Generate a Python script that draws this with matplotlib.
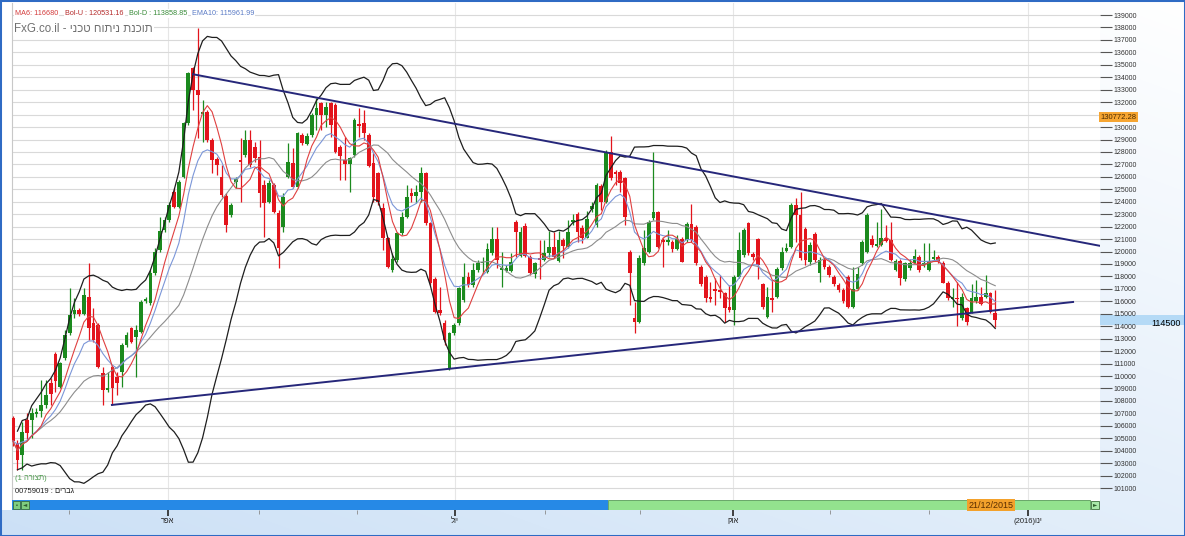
import numpy as np
import pandas as pd
import matplotlib
matplotlib.use("Agg")
import matplotlib.pyplot as plt
from matplotlib.patches import Rectangle

plt.rcParams['font.family'] = ['Liberation Sans', 'DejaVu Sans']

W, H = 1185, 536

# daily candles, 208 sessions ending 21/12/2015
opens = [106600, 104600, 103660, 106470, 106470, 106920, 107190, 107670, 109420, 111800,
         109150, 111420, 113430, 114960, 115300, 114960, 116380, 114230, 114100, 110220,
         108880, 110750, 109950, 110350, 112500, 113830, 113160, 113570, 116030, 115840,
         118250, 120130, 121730, 122530, 124810, 123600, 126010, 130300, 134720, 132980,
         131070, 131180, 128960, 127430, 126010, 124490, 122940, 125610, 127350, 127760,
         128960, 128420, 127620, 125350, 124010, 125350, 123070, 122000, 126010, 127090,
         125210, 129360, 128640, 129360, 130970, 131960, 130970, 131900, 131770, 128370,
         127350, 127030, 127750, 130240, 130300, 129360, 127090, 126280, 123470, 121060,
         118520, 119320, 121460, 122800, 124730, 124460, 124810, 126280, 122270, 117770,
         115300, 114230, 110620, 113430, 114230, 116110, 117980, 117310, 118520, 119050,
         118380, 119860, 120980, 118520, 118460, 118440, 122400, 119670, 122080, 119590,
         118170, 119510, 119320, 119860, 120390, 119240, 120930, 120390, 122350, 122990,
         121920, 121110, 123420, 122130, 125290, 124010, 128020, 126420, 126420, 125880,
         119990, 114690, 114320, 119050, 119990, 122670, 123150, 120930, 120740, 120740,
         120200, 121010, 120930, 122190, 122000, 118790, 117980, 116380, 116990, 116910,
         116650, 115570, 115310, 117980, 119720, 122270, 119800, 120980, 117390, 114720,
         116240, 116320, 118650, 120070, 120390, 123740, 122940, 121790, 119190, 121410,
         118250, 119320, 118730, 117980, 117310, 116910, 117980, 115570, 116970, 119060,
         119990, 120980, 120450, 120530, 121060, 120930, 118520, 119270, 117770, 118650,
         119110, 119530, 118920, 118520, 119380, 119590, 119110, 117500, 116220, 116240,
         114640, 115440, 115170, 116060, 116380, 116320, 116700, 115090]
highs = [106800, 104860, 106330, 107000, 107400, 107400, 109680, 109680, 109820, 111900,
         111150, 113700, 117050, 116240, 115440, 117050, 119050, 115440, 114230, 110750,
         110350, 110890, 110350, 112630, 113570, 113970, 114100, 116110, 116380, 118520,
         120260, 122800, 122800, 124000, 125080, 125750, 130430, 134450, 134850, 137930,
         132170, 131370, 129090, 127620, 126950, 124680, 123870, 126010, 129090, 129760,
         129760, 128830, 128960, 125750, 125750, 125480, 123340, 124680, 128690, 128290,
         129630, 129500, 129500, 131100, 132310, 132040, 132040, 132040, 131900, 128560,
         129230, 127620, 130700, 131500, 131370, 129500, 127890, 126420, 123870, 121200,
         119860, 121600, 123200, 125350, 125080, 125350, 126820, 126420, 122400, 117980,
         117180, 114500, 113570, 114230, 117180, 119050, 118380, 119050, 119320, 119590,
         120660, 122000, 122000, 120000, 118920, 119860, 122530, 122000, 122270, 119720,
         119190, 120930, 120930, 121650, 121600, 121650, 121060, 122530, 122990, 123150,
         122130, 123260, 123950, 125480, 125400, 128160, 129310, 126550, 126550, 126010,
         120120, 115980, 119720, 121730, 122530, 128020, 123260, 121060, 121730, 120930,
         121330, 121200, 122400, 123790, 122130, 118920, 118120, 117580, 117850, 118120,
         116780, 117320, 118120, 121600, 121860, 122400, 119990, 121060, 117500, 117180,
         117720, 118730, 120390, 120660, 123870, 124280, 124810, 122000, 120790, 121600,
         119530, 119460, 118920, 118120, 117500, 117050, 118120, 118790, 118790, 120930,
         123070, 121330, 122400, 123390, 122130, 122400, 119380, 119380, 119190, 119380,
         120180, 119720, 120710, 120710, 120120, 119720, 119270, 117660, 117050, 117580,
         116650, 115570, 117390, 117720, 117180, 118120, 116780, 116910]
lows = [104400, 102450, 102450, 104860, 105000, 106740, 106740, 107400, 107670, 108700,
        109000, 111290, 113300, 114640, 114850, 114900, 112900, 112760, 110620, 107670,
        108750, 107670, 108480, 109150, 112360, 112630, 109950, 113430, 115840, 115710,
        118120, 119990, 121600, 122400, 123470, 123470, 125880, 130170, 131370, 129090,
        128830, 128830, 126280, 126150, 124410, 121600, 122800, 125080, 124000, 127620,
        126820, 127220, 123600, 121200, 123870, 123070, 118650, 121600, 125880, 125080,
        125080, 128560, 128560, 129230, 129760, 129760, 130030, 129230, 127890, 125750,
        125750, 124810, 127620, 129230, 128960, 126760, 124010, 123740, 120120, 118650,
        118380, 119190, 121330, 122670, 124010, 123870, 123980, 122130, 117310, 115040,
        114900, 112490, 110490, 113300, 114100, 115980, 117180, 117180, 118380, 118250,
        118250, 119720, 118650, 117180, 118380, 118380, 119590, 119590, 119590, 118120,
        117850, 117800, 119240, 119590, 119460, 119190, 119460, 120260, 122130, 120740,
        120660, 121060, 123150, 122000, 123340, 123870, 125750, 125350, 124810, 122130,
        115710, 113430, 114230, 118920, 119860, 122530, 120260, 118790, 120530, 119990,
        120120, 119140, 120800, 120800, 118920, 117260, 115980, 115980, 115710, 116250,
        114370, 115170, 114100, 117850, 119590, 119720, 119320, 117770, 115360, 114640,
        115170, 116240, 118520, 119990, 120260, 120790, 119320, 118920, 118920, 119190,
        117580, 118570, 117980, 117230, 116780, 115900, 115440, 115440, 116910, 118920,
        119860, 120390, 120390, 120450, 120790, 119270, 118470, 117310, 117660, 118520,
        119060, 118380, 118790, 118470, 119270, 119060, 117450, 116110, 115570, 114020,
        114500, 114100, 115040, 115900, 115710, 116240, 115040, 113970]
closes = [104800, 103250, 105530, 105400, 107000, 107140, 107670, 108480, 108530, 109600,
          111020, 113300, 114900, 115300, 114960, 116510, 113830, 112900, 110750, 108880,
          109010, 109010, 109420, 112500, 113300, 112760, 113700, 115980, 116190, 118250,
          119990, 121650, 122530, 123740, 123600, 125610, 130300, 134320, 132980, 132570,
          131180, 128960, 127350, 126950, 124540, 122130, 123740, 125830, 127170, 128960,
          126950, 127490, 124680, 123870, 125480, 123200, 120260, 124410, 127220, 125210,
          129500, 128690, 129280, 130970, 131500, 130970, 131640, 130160, 128020, 127670,
          127030, 127490, 130570, 130080, 129500, 126870, 124410, 124010, 121060, 118780,
          119370, 121460, 122800, 124410, 124460, 124810, 126280, 122270, 117450, 115170,
          115090, 112900, 113430, 114100, 117040, 117980, 117310, 118520, 119110, 119190,
          120180, 120980, 119320, 118710, 118650, 119190, 121540, 121540, 119670, 118250,
          119050, 119320, 119860, 120390, 119590, 120930, 120470, 121600, 122530, 121540,
          121060, 122620, 123690, 125350, 123950, 128020, 125880, 126200, 125480, 122800,
          118250, 114320, 119460, 120260, 122400, 123200, 120390, 120740, 120930, 120200,
          121010, 119190, 122190, 120930, 119050, 117370, 116300, 116190, 116830, 116720,
          115490, 115310, 117980, 120120, 121730, 119860, 119590, 118920, 115520, 116380,
          116110, 118570, 119990, 120260, 123740, 122940, 119460, 119320, 120530, 119320,
          119320, 118730, 118120, 117390, 116910, 116060, 115570, 116970, 118200, 120800,
          122940, 120530, 120610, 121060, 120870, 119320, 119270, 117850, 119060, 119110,
          119640, 118520, 119110, 119270, 119530, 119190, 117500, 116240, 116320, 116160,
          116320, 114370, 116240, 116380, 115790, 116700, 115170, 114500]

# hand drawn trend lines (session index, price)
upper_tl_x = [38, 229.2]
upper_tl_y = [134240, 120450]
lower_tl_x = [20.9, 223.4]
lower_tl_y = [107680, 115950]

# first session of each month (Mar .. Jan)
month_starts = [11.9, 32.7, 51.9, 72.5, 93.2, 112.1, 132.1, 151.7, 172.2, 193.0, 213.9]
major_months = [32.7, 93.2, 151.7, 213.9]
major_labels = ["אפר"[::-1], "יול"[::-1], "אוק"[::-1], "(2016)" + "ינו"[::-1]]

last_date = "21/12/2015"
cursor_price = 130772.28
legend_items = [("MA6: 116680", "#d43c3c"), ("Bol-U : 120531.16", "#b52a2a"),
                ("Bol-D : 113858.85", "#3a8c3a"), ("EMA10: 115961.99", "#5c7cc6")]

RED = "#e3141c"
GREEN = "#1b8a1e"


def px_rect(x0, y0, x1, y1):
    return [x0 / W, 1 - y1 / H, (x1 - x0) / W, (y1 - y0) / H]


fig = plt.figure(figsize=(W / 100, H / 100), dpi=100)

# window background
bg = fig.add_axes([0, 0, 1, 1], zorder=-10)
yy, xx = np.mgrid[0:H, 0:W]
t = np.clip(0.55 * yy / H + 0.45 * (1 - xx / W), 0, 1)[..., None]
tint = np.array([0.80, 0.88, 0.965])
img = (1 - t) * np.ones(3) + t * tint
img[:510, :1100] = 1.0
bg.imshow(img, extent=[0, 1, 0, 1], aspect="auto", origin="upper")
bg.set_axis_off()

ax = fig.add_axes(px_rect(12, 3, 1100, 500))
ax.set_facecolor("white")

o = np.array(opens, float)
hi = np.array(highs, float)
lo = np.array(lows, float)
c = np.array(closes, float)
idx = np.arange(len(c))
cols = np.where(c >= o, GREEN, RED)

ax.vlines(idx, lo, hi, colors=cols, lw=0.9, zorder=3)
ax.bar(idx, np.maximum(np.abs(c - o), 60), bottom=np.minimum(o, c), width=0.78,
       color=cols, linewidth=0, zorder=3.1)

# indicators
s = pd.Series(c)
ma6 = s.rolling(6, min_periods=1).mean()
ema10 = s.ewm(span=10, adjust=False).mean()
mid = s.rolling(20, min_periods=1).mean()
sd = s.rolling(20, min_periods=2).std(ddof=0)
ax.plot(idx, mid + 2 * sd, color="#1e1e1e", lw=0.9, zorder=4)
ax.plot(idx, mid - 2 * sd, color="#1e1e1e", lw=0.9, zorder=4)
ax.plot(idx, mid, color="#8c8c8c", lw=0.8, zorder=4)
ax.plot(idx, ema10, color="#7b96d8", lw=0.8, zorder=4)
ax.plot(idx, ma6, color="#e04040", lw=0.8, zorder=4)

ax.plot(upper_tl_x, upper_tl_y, color="#26277a", lw=1.4, zorder=5)
ax.plot(lower_tl_x, lower_tl_y, color="#26277a", lw=1.4, zorder=5)

ax.set_xlim(-0.15, 229.07)
ax.set_ylim(100044, 139964)
ax.yaxis.tick_right()
ax.set_yticks(np.arange(101000, 139001, 1000))
ax.tick_params(axis="y", length=8.6, width=0.8, color="#555555", labelsize=5,
               labelcolor="#333333", pad=1)
ax.set_xticks(major_months)
ax.tick_params(axis="x", length=0, labelbottom=False)
ax.grid(axis="y", color="#d9d9d9", lw=0.8)
ax.grid(axis="x", color="#e6e6e6", lw=0.8)
for sp in ["top", "right", "bottom"]:
    ax.spines[sp].set_visible(False)
ax.spines["left"].set_color("#c8c8c8")
ax.spines["left"].set_linewidth(0.8)

# right side price boxes
ytr = ax.get_yaxis_transform()
ax.add_patch(Rectangle((1.0, c[-1] - 380), 0.08, 760, transform=ytr, facecolor="#b5daf6",
                       edgecolor="none", clip_on=False, zorder=1))
ax.text(1.047, c[-1] - 250, f"{c[-1]:.0f}", transform=ytr, ha="left", va="center",
        fontsize=6.5, color="black", clip_on=False)
ax.text(1.0005, cursor_price, f"{cursor_price:.2f}", transform=ytr, ha="left",
        va="center", fontsize=5.5, color="#4a2a00", clip_on=False, zorder=10,
        bbox=dict(boxstyle="square,pad=0.2", fc="#f6a531", ec="none"))

# top-left labels
xpos = [15, 65, 129, 192]
for (txt, col), xp in zip(legend_items, xpos):
    fig.text(xp / W, 1 - 13.5 / H, txt, fontsize=5.2, color=col, va="center",
             bbox=dict(boxstyle="square,pad=0.15", fc="white", ec="none"))
fig.text(14 / W, 1 - 29 / H, "FxG.co.il - " + "תוכנת ניתוח טכני"[::-1], fontsize=8.3,
         color="#707070", va="center",
         bbox=dict(boxstyle="square,pad=0.1", fc="white", ec="none"))
fig.text(15 / W, 1 - 478 / H, "(" + "1 " + "תצורה"[::-1] + ")", fontsize=5.5,
         color="#4e9a4e", va="center")
fig.text(15 / W, 1 - 491.5 / H, "00759019 : " + "גברים"[::-1], fontsize=5.5,
         color="#222222", va="center")

# scroll bar with the date axis
sb = fig.add_axes(px_rect(12, 500, 1100, 510))
sb.set_xlim(ax.get_xlim())
sb.set_ylim(0, 1)
sb.add_patch(Rectangle((0, 0), 0.548, 1, transform=sb.transAxes, fc="#2689e6", ec="none"))
sb.add_patch(Rectangle((0.548, 0), 0.443, 1, transform=sb.transAxes, fc="#93e28e",
                       ec="#5a9a5a", lw=0.6))
for bx in [0.0005, 0.0085]:
    sb.add_patch(Rectangle((bx, 0.08), 0.0072, 0.84, transform=sb.transAxes, fc="#7fce7f",
                           ec="#3c6e3c", lw=0.6))
sb.add_patch(Rectangle((0.9915, 0.08), 0.0075, 0.84, transform=sb.transAxes, fc="#a8e8a8",
                       ec="#3c6e3c", lw=0.6))
sb.text(0.0045, 0.5, "▪", transform=sb.transAxes, ha="center", va="center", fontsize=4,
        color="#2e5e2e")
sb.text(0.0121, 0.5, "◄", transform=sb.transAxes, ha="center", va="center", fontsize=4,
        color="#2e5e2e", family="DejaVu Sans")
sb.text(0.9953, 0.5, "►", transform=sb.transAxes, ha="center", va="center", fontsize=4,
        color="#2e5e2e", family="DejaVu Sans")
sb.text(idx[-1] - 0.9, 0.5, last_date, ha="center", va="center", fontsize=6.5,
        color="#5a2e00", bbox=dict(boxstyle="square,pad=0.12", fc="#f3a12b", ec="none"))
sb.set_xticks(major_months)
sb.set_xticklabels(major_labels)
sb.set_xticks(month_starts, minor=True)
sb.tick_params(axis="x", which="major", length=4, width=1.3, color="#333333",
               labelsize=5.5, labelcolor="#222222", pad=1.5)
sb.tick_params(axis="x", which="minor", length=3, width=0.6, color="#8a8a8a")
sb.set_yticks([])
for sp in sb.spines.values():
    sp.set_visible(False)

# window border
fig.patches.append(Rectangle((0, 0), 1, 1, transform=fig.transFigure, fill=False,
                             ec="#2f6bc4", lw=2.2))

fig.savefig("out.png", dpi=100)
